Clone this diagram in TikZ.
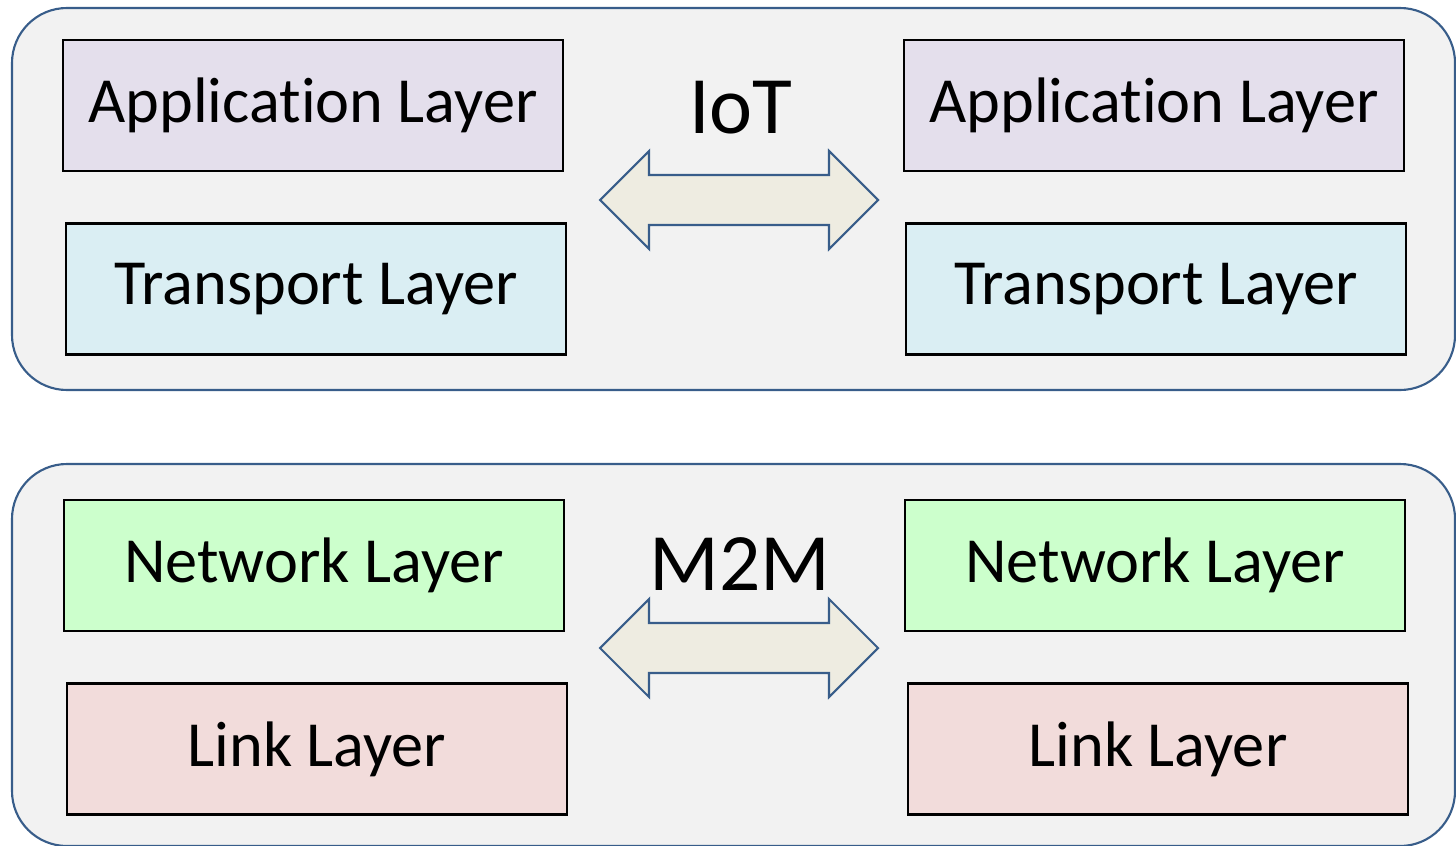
\documentclass[tikz,border=0pt]{standalone}
\usepackage{fontspec}
\setmainfont{Carlito}[Ligatures={NoCommon}]
\usepackage{tikz}
\usetikzlibrary{positioning,calc}

\definecolor{panelfill}{HTML}{F2F2F2}
\definecolor{paneledge}{HTML}{385D8A}
\definecolor{arrowfill}{HTML}{EEECE1}
\definecolor{appfill}{HTML}{E4DFEC}
\definecolor{transfill}{HTML}{DAEEF3}
\definecolor{netfill}{HTML}{CCFFCC}
\definecolor{linkfill}{HTML}{F2DCDB}

\tikzset{
    panel/.style={draw=paneledge, fill=panelfill, line width=0.6pt, rounded corners=0.55cm},
    layerbox/.style={draw=black, line width=0.8pt, minimum width=5cm, minimum height=1.31cm,
        inner sep=0pt, font=\fontsize{18.3}{22}\selectfont},
    applayer/.style={layerbox, fill=appfill},
    translayer/.style={layerbox, fill=transfill},
    netlayer/.style={layerbox, fill=netfill},
    linklayer/.style={layerbox, fill=linkfill},
    dblarrow/.style={draw=paneledge, fill=arrowfill, line width=0.6pt, line join=miter},
    tag/.style={font=\fontsize{23.2}{27}\selectfont, inner sep=0pt}
}

\begin{document}
\begin{tikzpicture}
    \useasboundingbox (0,0) rectangle (14.56,8.45);

    % the two groups
    \draw[panel] (0.12,4.55) rectangle (14.55,8.37);
    \draw[panel] (0.12,-0.01) rectangle (14.55,3.81);

    % upper layers
    \node[applayer] (AppL) at (3.13,7.395) {Application Layer};
    \node[translayer] (TransL) at (3.16,5.56) {Transport Layer};
    \node[applayer] (AppR) at (11.54,7.395) {Application Layer};
    \node[translayer] (TransR) at (11.56,5.56) {Transport Layer};

    % lower layers
    \node[netlayer] (NetL) at (3.14,2.795) {Network Layer};
    \node[linklayer] (LinkL) at (3.17,0.96) {Link Layer};
    \node[netlayer] (NetR) at (11.55,2.795) {Network Layer};
    \node[linklayer] (LinkR) at (11.58,0.96) {Link Layer};

    \node[tag] (IoT) at (7.41,7.37) {IoT};
    \node[tag] (MtoM) at (7.40,2.81) {M2M};

    % double arrows between the stacks
    \coordinate (IoTmid) at (7.39,6.45);
    \coordinate (MtoMmid) at (7.39,1.97);
    \foreach \c in {IoTmid,MtoMmid}{
        \draw[dblarrow] ($(\c)+(-1.39,0)$) -- ++(0.49,0.49) -- ++(0,-0.24) -- ++(1.80,0)
            -- ++(0,0.24) -- ++(0.49,-0.49) -- ++(-0.49,-0.49) -- ++(0,0.24)
            -- ++(-1.80,0) -- ++(0,-0.24) -- cycle;
    }
\end{tikzpicture}
\end{document}
